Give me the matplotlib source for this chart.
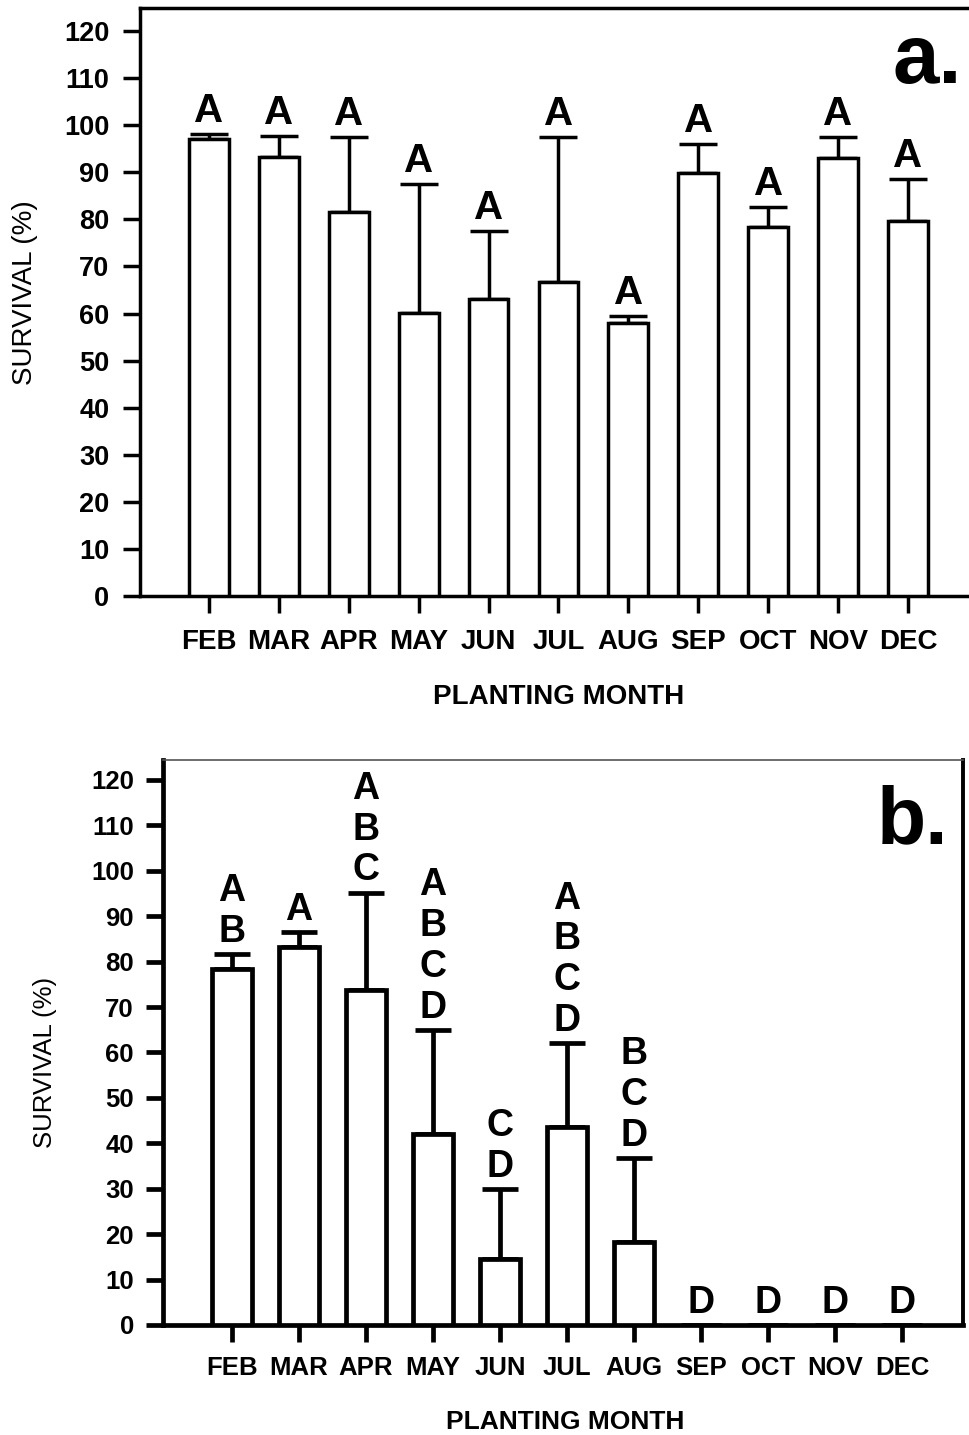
import matplotlib
matplotlib.use('Agg')
import matplotlib.pyplot as plt
import numpy as np

plt.rcParams['font.family'] = ['Liberation Sans', 'DejaVu Sans']

# ---------------- data ----------------
months = ['FEB', 'MAR', 'APR', 'MAY', 'JUN', 'JUL', 'AUG', 'SEP', 'OCT', 'NOV', 'DEC']

surv_a = [97.0, 93.2, 81.6, 60.1, 63.1, 66.7, 58.0, 89.8, 78.4, 93.0, 79.7]
err_a = [1.1, 4.5, 15.9, 27.4, 14.4, 30.8, 1.5, 6.2, 4.2, 4.5, 8.9]
letters_a = ['A', 'A', 'A', 'A', 'A', 'A', 'A', 'A', 'A', 'A', 'A']

surv_b = [78.4, 83.3, 73.8, 42.1, 14.5, 43.6, 18.3, 0.0, 0.0, 0.0, 0.0]
err_b = [3.3, 3.3, 21.4, 22.9, 15.5, 18.5, 18.5, 0.0, 0.0, 0.0, 0.0]
letters_b = ['AB', 'A', 'ABC', 'ABCD', 'CD', 'ABCD', 'BCD', 'D', 'D', 'D', 'D']

yticks = list(range(0, 121, 10))
ylabel = 'SURVIVAL (%)'
xlabel = 'PLANTING MONTH'

# ---------------- layout ----------------
W, H = 969, 1435
fig = plt.figure(figsize=(W / 100, H / 100), dpi=100)


def px(l, t, r, b):
    return [l / W, 1 - b / H, (r - l) / W, (b - t) / H]


def panel(ax, surv, err, letters, lw, bar_w, capsize, letter_fs, letter_off,
          linespacing, ytick_fs, xtick_fs, xpad, ypad):
    x = np.arange(len(months))
    surv = np.asarray(surv)
    err = np.asarray(err)
    ax.bar(x, surv, width=bar_w, color='white', edgecolor='black',
           linewidth=lw, zorder=3)
    m = err > 0
    ax.errorbar(x[m], surv[m], yerr=[np.zeros(m.sum()), err[m]], fmt='none',
                ecolor='black', elinewidth=lw, capsize=capsize, capthick=lw,
                zorder=2)
    for xi, s, e, lab in zip(x, surv, err, letters):
        ax.annotate('\n'.join(lab), xy=(xi, s + e), xytext=(0, letter_off),
                    textcoords='offset points', ha='center', va='bottom',
                    fontsize=letter_fs, fontweight='bold',
                    linespacing=linespacing, zorder=4)
    ax.set_xticks(x)
    ax.set_xticklabels(months, fontsize=xtick_fs, fontweight='bold')
    ax.set_yticks(yticks)
    ax.set_yticklabels([str(t) for t in yticks], fontsize=ytick_fs,
                       fontweight='bold')
    ax.tick_params(axis='x', direction='out', length=12, width=lw, pad=xpad)
    ax.tick_params(axis='y', direction='out', length=12, width=lw, pad=ypad)
    for s in ax.spines.values():
        s.set_linewidth(lw)


# panel a
axA = fig.add_axes(px(140, 8, 975, 596))
panel(axA, surv_a, err_a, letters_a, lw=2.5, bar_w=0.57, capsize=13.5,
      letter_fs=29, letter_off=3, linespacing=1.2, ytick_fs=19.5, xtick_fs=20,
      xpad=12, ypad=10)
axA.set_xlim(-0.987, 10.96)
axA.set_ylim(0, 124.9)
axA.spines['right'].set_visible(False)

# panel b
axB = fig.add_axes(px(163, 760, 963, 1325))
panel(axB, surv_b, err_b, letters_b, lw=3.4, bar_w=0.6, capsize=13,
      letter_fs=27, letter_off=3, linespacing=1.17, ytick_fs=18.5, xtick_fs=18.5,
      xpad=10, ypad=9)
axB.set_xlim(-1.03, 10.91)
axB.set_ylim(0, 124.4)
axB.spines['top'].set_linewidth(1.2)
axB.spines['top'].set_color('#555555')
axB.spines['right'].set_linewidth(2.8)

# axis titles
fig.text(25 / W, 1 - 293 / H, ylabel, rotation=90, ha='center', va='center',
         fontsize=20)
fig.text(559 / W, 1 - 697 / H, xlabel, ha='center', va='center', fontsize=20,
         fontweight='bold')
fig.text(45 / W, 1 - 1062 / H, ylabel, rotation=90, ha='center', va='center',
         fontsize=18.5)
fig.text(565 / W, 1 - 1422 / H, xlabel, ha='center', va='center', fontsize=19,
         fontweight='bold')

# panel tags
fig.text(962 / W, 1 - 83 / H, 'a.', ha='right', va='baseline', fontsize=60,
         fontweight='bold')
fig.text(948 / W, 1 - 843 / H, 'b.', ha='right', va='baseline', fontsize=58,
         fontweight='bold')

fig.savefig('out.png', dpi=100)
